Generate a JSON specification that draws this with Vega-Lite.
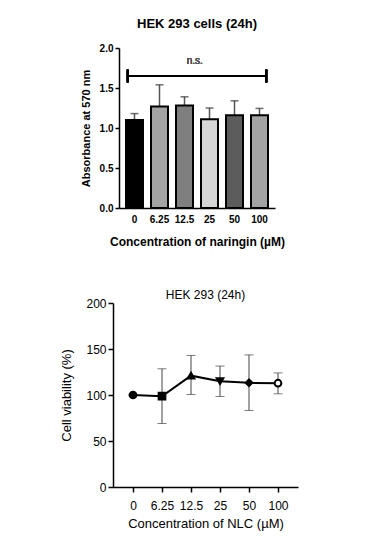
{
  "$schema": "https://vega.github.io/schema/vega-lite/v6.json",
  "background": "white",
  "padding": {"left": 60, "top": 18, "right": 10, "bottom": 5},
  "spacing": 42,
  "resolve": {"scale": {"fill": "independent", "shape": "independent", "size": "independent"}},
  "config": {
    "font": "Liberation Sans",
    "view": {"stroke": null},
    "axis": {"grid": false, "domainColor": "black", "tickColor": "black", "labelColor": "black", "titleColor": "black", "labelOverlap": false}
  },
  "vconcat": [
    {
      "title": {"text": "HEK 293 cells (24h)", "fontSize": 13, "fontWeight": "bold", "font": "Liberation Sans", "offset": 12, "frame": "group", "dx": 3},
      "width": 162,
      "height": 160,
      "data": {"values": [
        {"conc": "0", "abs": 1.10, "upper": 1.18},
        {"conc": "6.25", "abs": 1.27, "upper": 1.54},
        {"conc": "12.5", "abs": 1.28, "upper": 1.39},
        {"conc": "25", "abs": 1.11, "upper": 1.25},
        {"conc": "50", "abs": 1.16, "upper": 1.34},
        {"conc": "100", "abs": 1.16, "upper": 1.245}
      ]},
      "encoding": {
        "x": {"field": "conc", "type": "nominal", "sort": null,
          "scale": {"paddingInner": 0.32, "paddingOuter": 0.28, "range": [6, 162]},
          "axis": {"title": "Concentration of naringin (µM)", "titleFontSize": 12, "titleFontWeight": "bold", "labelFontSize": 10, "labelFontWeight": "bold", "labelAngle": 0, "ticks": false, "labelPadding": 6, "titlePadding": 12, "domainWidth": 1.5}}
      },
      "layer": [
        {
          "mark": {"type": "rule", "color": "#555", "strokeWidth": 1.5},
          "encoding": {
            "y": {"field": "abs", "type": "quantitative",
              "scale": {"domain": [0, 2], "nice": false},
              "axis": {"title": "Absorbance at 570 nm", "titleFontSize": 11, "titleFontWeight": "bold", "labelFontSize": 10, "labelFontWeight": "bold", "values": [0, 0.5, 1, 1.5, 2], "tickCount": 5, "labelOverlap": false, "format": ".1f", "tickSize": 4, "titlePadding": 8, "offset": -6, "domainWidth": 1.5, "tickWidth": 1.5}},
            "y2": {"field": "upper"}
          }
        },
        {
          "mark": {"type": "tick", "color": "#333", "thickness": 1.5, "size": 8},
          "encoding": {"y": {"field": "upper", "type": "quantitative",
              "axis": {"title": "Absorbance at 570 nm", "titleFontSize": 11, "titleFontWeight": "bold", "labelFontSize": 10, "labelFontWeight": "bold", "values": [0, 0.5, 1, 1.5, 2], "tickCount": 5, "labelOverlap": false, "format": ".1f", "tickSize": 4, "titlePadding": 8, "offset": -6, "domainWidth": 1.5, "tickWidth": 1.5}}}
        },
        {
          "mark": {"type": "bar", "stroke": "black", "strokeWidth": 2},
          "encoding": {
            "y": {"field": "abs", "type": "quantitative",
              "axis": {"title": "Absorbance at 570 nm", "titleFontSize": 11, "titleFontWeight": "bold", "labelFontSize": 10, "labelFontWeight": "bold", "values": [0, 0.5, 1, 1.5, 2], "tickCount": 5, "labelOverlap": false, "format": ".1f", "tickSize": 4, "titlePadding": 8, "offset": -6, "domainWidth": 1.5, "tickWidth": 1.5}},
            "fill": {"field": "conc", "type": "nominal", "sort": null, "legend": null,
              "scale": {"domain": ["0", "6.25", "12.5", "25", "50", "100"], "range": ["#000000", "#a3a3a3", "#7f7f7f", "#d6d6d6", "#5c5c5c", "#a3a3a3"]}}
          }
        },
        {
          "mark": {"type": "rule", "color": "black", "strokeWidth": 2},
          "encoding": {
            "x": {"datum": "0", "bandPosition": 0.1},
            "x2": {"datum": "100", "bandPosition": 0.9},
            "y": {"datum": 1.65, "type": "quantitative",
              "axis": {"title": "Absorbance at 570 nm", "titleFontSize": 11, "titleFontWeight": "bold", "labelFontSize": 10, "labelFontWeight": "bold", "values": [0, 0.5, 1, 1.5, 2], "tickCount": 5, "labelOverlap": false, "format": ".1f", "tickSize": 4, "titlePadding": 8, "offset": -6, "domainWidth": 1.5, "tickWidth": 1.5}}
          }
        },
        {
          "mark": {"type": "rule", "color": "black", "strokeWidth": 2},
          "encoding": {
            "x": {"datum": "0", "bandPosition": 0.1},
            "y": {"datum": 1.57, "type": "quantitative"},
            "y2": {"datum": 1.73}
          }
        },
        {
          "mark": {"type": "rule", "color": "black", "strokeWidth": 2},
          "encoding": {
            "x": {"datum": "100", "bandPosition": 0.9},
            "y": {"datum": 1.57, "type": "quantitative"},
            "y2": {"datum": 1.73}
          }
        },
        {
          "mark": {"type": "text", "text": "n.s.", "fontSize": 10, "fontWeight": "normal", "color": "#555", "font": "Liberation Sans"},
          "encoding": {
            "x": {"datum": "12.5", "bandPosition": 1.1},
            "y": {"datum": 1.84, "type": "quantitative"}
          }
        }
      ]
    },
    {
      "title": {"text": "HEK 293 (24h)", "fontSize": 12, "fontWeight": "normal", "font": "Liberation Sans", "offset": -5, "frame": "group"},
      "width": 185,
      "height": 184,
      "data": {"values": [
        {"conc": "0", "viability": 100, "lo": 100, "hi": 100},
        {"conc": "6.25", "viability": 98.7, "lo": 69, "hi": 128.5},
        {"conc": "12.5", "viability": 121, "lo": 100.5, "hi": 143},
        {"conc": "25", "viability": 115, "lo": 98.4, "hi": 131.5},
        {"conc": "50", "viability": 113.2, "lo": 83.2, "hi": 143.6},
        {"conc": "100", "viability": 112.8, "lo": 101.3, "hi": 124}
      ]},
      "encoding": {
        "x": {"field": "conc", "type": "ordinal", "sort": null,
          "scale": {"type": "point", "padding": 0.69},
          "axis": {"title": "Concentration of NLC (µM)", "titleFontSize": 13, "titleFontWeight": "normal", "labelFontSize": 12, "labelAngle": 0, "tickSize": 5, "labelPadding": 8, "titlePadding": 6, "domainWidth": 1.5, "tickWidth": 1.5}}
      },
      "layer": [
        {
          "mark": {"type": "rule", "color": "#444", "strokeWidth": 1},
          "encoding": {
            "y": {"field": "lo", "type": "quantitative",
              "scale": {"domain": [0, 200]},
              "axis": {"title": "Cell viability (%)", "titleFontSize": 13, "titleFontWeight": "normal", "labelFontSize": 12, "values": [0, 50, 100, 150, 200], "tickSize": 5, "titlePadding": 12, "domainWidth": 1.5, "tickWidth": 1.5}},
            "y2": {"field": "hi"}
          }
        },
        {
          "mark": {"type": "tick", "color": "#444", "thickness": 1, "size": 9},
          "encoding": {"y": {"field": "lo", "type": "quantitative"}}
        },
        {
          "mark": {"type": "tick", "color": "#444", "thickness": 1, "size": 9},
          "encoding": {"y": {"field": "hi", "type": "quantitative"}}
        },
        {
          "mark": {"type": "line", "color": "black", "strokeWidth": 2},
          "encoding": {"y": {"field": "viability", "type": "quantitative"}}
        },
        {
          "mark": {"type": "point", "filled": true, "stroke": "black", "strokeWidth": 2, "opacity": 1, "fillOpacity": 1},
          "encoding": {
            "y": {"field": "viability", "type": "quantitative"},
            "shape": {"field": "conc", "type": "nominal", "sort": null, "legend": null,
              "scale": {"domain": ["0", "6.25", "12.5", "25", "50", "100"], "range": ["circle", "square", "triangle-up", "triangle-down", "diamond", "circle"]}},
            "fill": {"condition": {"test": "datum.conc === '100'", "value": "white"}, "value": "black"},
            "size": {"field": "conc", "type": "nominal", "sort": null, "legend": null,
              "scale": {"domain": ["0", "6.25", "12.5", "25", "50", "100"], "range": [45, 45, 40, 35, 18, 50]}}
          }
        }
      ]
    }
  ]
}
